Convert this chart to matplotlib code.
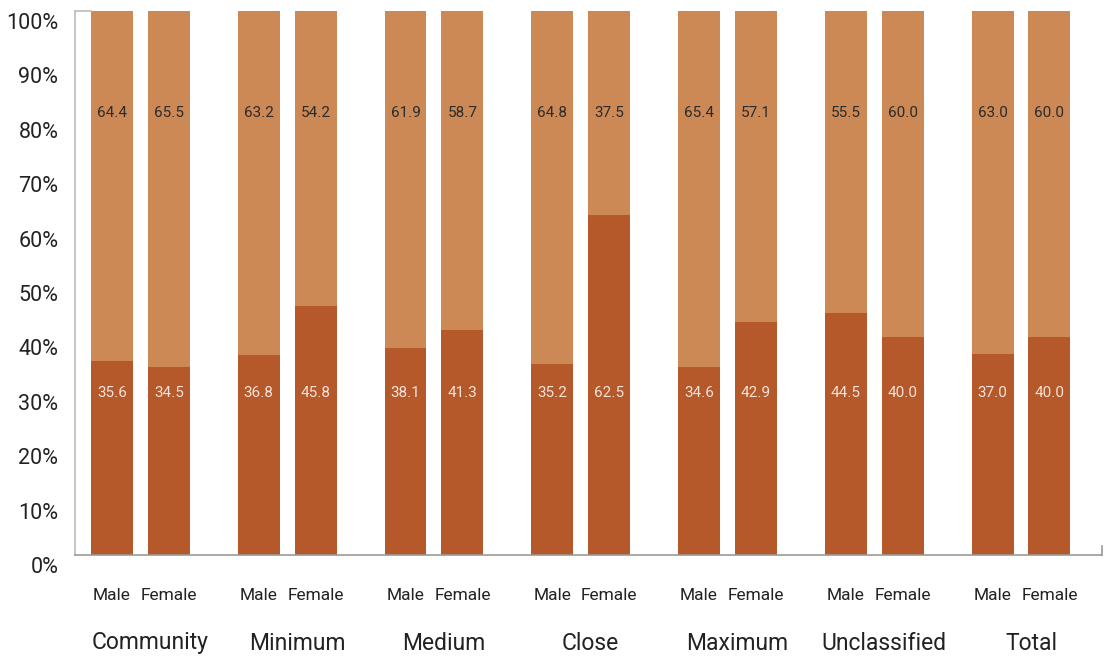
import matplotlib.pyplot as plt
import matplotlib.transforms as mtransforms
import numpy as np

groups = ["Community", "Minimum", "Medium", "Close", "Maximum", "Unclassified", "Total"]
sexes = ["Male", "Female"]
male_lower = [35.6, 36.8, 38.1, 35.2, 34.6, 44.5, 37.0]
male_upper = [64.4, 63.2, 61.9, 64.8, 65.4, 55.5, 63.0]
female_lower = [34.5, 45.8, 41.3, 62.5, 42.9, 40.0, 40.0]
female_upper = [65.5, 54.2, 58.7, 37.5, 57.1, 60.0, 60.0]

dark = "#B5582A"
light = "#CD8955"
font = "Roboto"

fig = plt.figure(figsize=(11.12, 6.56), dpi=100)
ax = fig.add_axes([75 / 1112, 1 - 555 / 656, 1027 / 1112, 544 / 656])

x = np.arange(len(groups))
w = 0.286
off = 0.194

for pos, lower, upper in [(x - off, male_lower, male_upper), (x + off, female_lower, female_upper)]:
    ax.bar(pos, lower, width=w, color=dark, zorder=2)
    ax.bar(pos, upper, width=w, bottom=lower, color=light, zorder=2)
    for xi, lo, up in zip(pos, lower, upper):
        ax.text(xi, 29.8, f"{lo:.1f}", ha="center", va="center", color="#F3E3DA",
                fontsize=11, family=font)
        ax.text(xi, 81.3, f"{up:.1f}", ha="center", va="center", color="#2b2b2b",
                fontsize=11, family=font)

ax.set_xlim(-0.446, 6.552)
ax.set_ylim(0, 100)
ax.set_xticks([])
ax.set_yticks(np.arange(0, 101, 10))
ax.set_yticklabels([f"{v}%" for v in range(0, 101, 10)], family=font, fontsize=15.5, color="#222")
ax.tick_params(axis="y", length=0, pad=12)
shift = mtransforms.ScaledTranslation(0, -10 / 100, fig.dpi_scale_trans)
for lbl in ax.get_yticklabels():
    lbl.set_transform(lbl.get_transform() + shift)

for s in ["top", "right"]:
    ax.spines[s].set_visible(False)
ax.spines["left"].set_color("#bbbbbb")
ax.spines["bottom"].set_color("#999999")
ax.spines["left"].set_linewidth(1.2)
ax.spines["bottom"].set_linewidth(1.2)

# small marks at the frame corners
ax.plot([-0.446, -0.34], [100, 100], color="#bbbbbb", lw=1.2, clip_on=False)
ax.plot([6.552, 6.552], [0, 1.6], color="#999999", lw=1.2, clip_on=False)

trans = mtransforms.blended_transform_factory(ax.transData, fig.transFigure)
for i, g in enumerate(groups):
    ax.text(i - off, 1 - 595 / 656, sexes[0], transform=trans, ha="center", va="center",
            fontsize=12.5, family=font, color="#222")
    ax.text(i + off, 1 - 595 / 656, sexes[1], transform=trans, ha="center", va="center",
            fontsize=12.5, family=font, color="#222")
    ax.text(i + 0.068, 1 - 643 / 656, g, transform=trans, ha="center", va="center",
            fontsize=16.5, family=font, color="#222")

fig.savefig("out.png", dpi=100)
